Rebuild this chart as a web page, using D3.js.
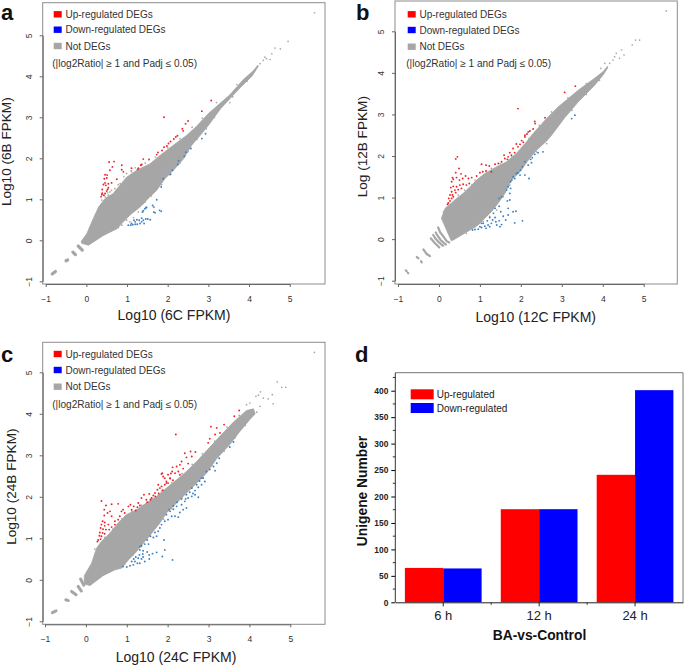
<!DOCTYPE html>
<html><head><meta charset="utf-8">
<script src="https://cdn.jsdelivr.net/npm/d3@7/dist/d3.min.js"></script>
<style>html,body{margin:0;padding:0;background:#fff}svg{display:block}text{font-family:"Liberation Sans",Arial,sans-serif}</style>
</head><body><svg id="c" width="685" height="665"></svg>
<script>
// ---------- panel a, log10 units ----------
const aUp=[[.56,1.91],[.68,1.92],[.87,1.83],[.64,1.79],[.58,1.71],[.87,1.72],[.91,1.67],[.46,1.60],[.51,1.59],[.44,1.50],[.50,1.52],[.75,1.49],[.46,1.40],[.42,1.36],[.48,1.34],[.54,1.38],[.62,1.40],[.54,1.28],[.39,1.24],[.52,1.24],[.50,1.20],[.39,1.15],[.46,1.14],[.36,1.06],[.43,1.10],[.38,1.11],[3.07,3.41],[2.84,3.15],[1.91,3.00],[2.50,2.91],[2.44,2.84],[2.36,2.72],[2.38,2.67],[2.24,2.55],[2.15,2.47],[2.07,2.41],[1.98,2.30],[1.91,2.27],[1.86,2.19],[1.76,2.14],[1.73,2.09],[1.54,1.97],[1.40,1.98],[1.34,1.83],[1.28,1.76],[1.11,1.76],[2.02,2.36],[2.20,2.52],[1.26,1.73],[1.36,1.85]];
const aDown=[[2.93,2.60],[2.84,2.48],[2.57,2.24],[2.45,2.15],[2.41,2.05],[2.27,1.94],[2.25,1.85],[2.12,1.71],[2.07,1.61],[1.89,1.50],[1.84,1.30],[1.73,.99],[1.63,.85],[1.66,.81],[1.84,.71],[1.80,.73],[1.48,.80],[1.40,.72],[1.69,.67],[1.03,.37],[1.09,.37],[1.14,.38],[1.20,.39],[1.25,.39],[1.32,.41],[1.17,.49],[1.24,.50],[1.30,.49],[1.36,.45],[1.40,.49],[1.46,.52],[1.51,.52],[1.57,.50],[1.36,.54],[1.42,.41],[1.44,.77],[1.47,.80],[1.38,.69],[1.20,.45],[1.11,.41],[1.66,.69]];
const aUpper=[[-.12,-.02],[.01,.16],[.17,.53],[.30,.81],[.46,1.02],[.66,1.14],[.79,1.30],[.99,1.54],[1.24,1.71],[1.57,1.87],[1.81,2.07],[2.14,2.32],[2.47,2.56],[2.71,2.78],[3.00,3.09],[3.53,3.55],[3.86,3.92],[4.10,4.13],[4.22,4.27]];
const aLower=[[-.12,-.07],[.05,-.12],[.42,.12],[.75,.28],[.91,.45],[1.11,.65],[1.32,.81],[1.52,1.02],[1.73,1.22],[1.93,1.50],[2.18,1.75],[2.39,1.99],[2.59,2.32],[2.80,2.56],[3.00,2.80],[3.30,3.21],[3.78,3.72],[4.07,4.00],[4.22,4.23]];
const aRuns=[[[-.84,-.82],[-.76,-.76]],[[-.50,-.50],[-.46,-.48]],[[-.33,-.29],[-.27,-.35]],[[-.20,-.14],[-.10,-.24]]];
const aGrey=[[5.61,5.55],[4.96,4.85],[4.77,4.67],[4.64,4.69],[4.56,4.55],[4.43,4.43],[4.52,4.41],[4.39,4.47],[4.35,4.39],[4.27,4.31],[4.20,4.23],[4.15,4.15],[.38,.98],[.46,1.06],[.58,1.18],[.70,1.26],[.99,1.63],[1.11,1.67],[.83,1.38],[.54,1.10],[1.44,.93],[1.28,.69],[.99,.49],[1.07,.45],[.87,.37],[.79,.31],[1.16,.55],[.91,.53],[3.53,3.36],[2.95,2.72],[.52,1.16],[.62,1.22],[.78,1.36],[.92,1.55],[1.10,1.70],[1.20,1.77],[1.45,1.88],[1.70,2.03],[2.00,2.26],[2.30,2.48],[2.60,2.76],[2.85,2.98],[3.20,3.36],[3.70,3.80],[.60,.24],[.84,.42],[1.00,.60],[1.20,.74],[1.40,.90],[1.60,1.08],[1.85,1.36],[2.05,1.60],[2.30,1.88],[2.50,2.16],[2.72,2.46],[3.15,3.00],[3.60,3.50],[3.95,3.88]];
// ---------- panel b ----------
const bUp=[[.45,1.98],[.41,1.93],[.49,1.70],[.41,1.60],[.54,1.57],[.33,1.48],[.35,1.44],[.31,1.38],[.43,1.48],[.50,1.42],[.58,1.46],[.65,1.52],[.72,1.46],[.80,1.48],[.74,1.34],[.67,1.30],[.59,1.32],[.51,1.30],[.43,1.26],[.35,1.27],[.29,1.24],[.31,1.14],[.39,1.18],[.47,1.19],[.55,1.22],[.27,1.06],[.33,1.06],[.24,.98],[.31,.98],[.23,.87],[.27,.92],[.21,.84],[.35,1.02],[.41,1.12],[1.04,1.80],[1.15,1.78],[1.23,1.76],[1.00,1.60],[.92,1.52],[1.07,1.62],[1.15,1.64],[1.28,1.62],[1.37,1.80],[1.45,1.82],[1.53,1.86],[1.61,1.94],[1.69,1.98],[1.77,2.02],[1.59,2.02],[1.67,1.92],[1.81,2.18],[1.89,2.29],[1.93,2.22],[2.02,2.37],[2.10,2.46],[2.15,2.53],[2.18,2.58],[3.07,3.53],[3.33,3.68],[1.93,3.14],[2.34,2.83],[2.35,2.78],[2.59,2.92],[2.30,2.65],[2.22,2.60],[2.10,2.50],[1.85,2.08],[1.73,2.08],[1.98,2.28],[2.06,2.33]];
const bDown=[[2.54,2.10],[2.42,2.08],[2.34,2.04],[2.28,1.96],[2.24,1.92],[2.26,1.84],[2.18,1.78],[2.10,1.86],[2.04,1.74],[1.99,1.66],[1.89,1.58],[1.81,1.50],[1.75,1.38],[1.69,1.26],[1.65,1.18],[1.85,1.46],[1.98,1.54],[2.10,1.54],[2.20,1.46],[1.75,1.22],[1.73,1.10],[1.47,.98],[1.53,1.02],[1.67,.92],[1.73,.94],[1.37,.74],[1.47,.79],[1.51,.66],[1.69,.74],[1.81,.66],[1.88,.67],[1.69,.58],[1.57,.55],[1.85,.39],[2.04,.44],[1.63,.46],[1.53,.35],[1.47,.44],[1.39,.42],[1.28,.38],[1.20,.34],[1.12,.31],[1.04,.28],[.96,.24],[.88,.23],[.82,.22],[1.08,.38],[1.18,.44],[1.24,.52],[1.31,.46],[1.04,.38],[1.41,.34],[1.49,.30],[1.24,.30],[1.15,.26],[1.00,.30],[1.37,.52],[1.33,.62],[3.32,2.98],[3.24,2.90],[1.93,1.60],[1.78,1.42]];
const bUpper=[[.06,.50],[.15,.74],[.27,.84],[.43,.98],[.59,1.10],[.76,1.26],[.92,1.42],[1.12,1.58],[1.37,1.72],[1.65,1.86],[1.89,2.06],[2.14,2.34],[2.30,2.54],[2.59,2.86],[2.91,3.18],[3.40,3.58],[3.80,3.87],[4.01,4.03],[4.12,4.16]];
const bLower=[[.30,-.04],[.35,-.02],[.59,.12],[.76,.22],[.96,.34],[1.12,.50],[1.28,.66],[1.45,.87],[1.61,1.10],[1.77,1.42],[1.98,1.62],[2.18,1.90],[2.38,2.14],[2.63,2.36],[2.75,2.50],[3.07,2.92],[3.40,3.30],[3.80,3.70],[4.01,3.95],[4.12,4.12]];
const bRuns=[[[-.81,-.75],[-.79,-.77]],[[-.76,-.81],[-.75,-.82]],[[-.54,-.43],[-.50,-.46]],[[-.44,-.53],[-.42,-.56]],[[-.38,-.25],[-.34,-.30],[-.30,-.36],[-.26,-.38],[-.22,-.41]],[[-.20,.02],[-.15,-.04],[-.10,-.10],[-.04,-.15],[.01,-.20]],[[-.14,.10],[-.09,.02],[-.02,-.06],[.05,-.12],[.10,-.16]],[[-.08,.16],[-.03,.08],[.04,-.02],[.12,-.09],[.17,-.13]],[[-.02,.28],[.03,.16],[.11,.06],[.19,-.05],[.25,-.08]]];
const bGrey=[[5.55,5.49],[4.90,4.79],[4.80,4.79],[4.72,4.67],[4.52,4.43],[4.46,4.55],[4.41,4.35],[4.33,4.47],[4.25,4.31],[4.17,4.23],[4.05,4.23],[3.95,4.11],[4.29,4.39],[.19,.74],[.11,.66],[.47,1.06],[.63,1.18],[.88,1.42],[1.04,1.50],[1.28,1.70],[.80,1.30],[.72,1.18],[.39,.90],[.67,.14],[.88,.30],[1.08,.42],[1.24,.55],[1.41,.70],[1.57,1.02],[1.73,1.30],[2.02,1.70],[2.38,2.10],[2.63,2.30],[1.50,1.82],[1.78,1.98],[2.20,2.42],[2.45,2.74],[2.75,3.06],[3.15,3.40],[3.60,3.74],[2.90,2.72],[3.25,3.10],[3.60,3.48],[3.92,3.82]];
// ---------- panel c ----------
const cUp=[[.38,1.90],[.63,1.82],[.79,1.83],[.49,1.79],[.45,1.69],[.59,1.65],[.53,1.61],[.45,1.55],[.63,1.53],[.71,1.41],[.79,1.45],[.87,1.65],[.91,1.69],[.95,1.61],[.83,1.53],[.41,1.41],[.46,1.38],[.38,1.33],[.46,1.30],[.55,1.33],[.63,1.27],[.71,1.33],[.36,1.25],[.42,1.22],[.49,1.21],[.34,1.14],[.41,1.13],[.46,1.11],[.33,1.06],[.38,1.05],[.30,.96],[.36,.98],[.28,.92],[.57,1.21],[1.04,1.77],[1.09,1.81],[1.17,1.77],[1.28,1.85],[1.36,1.97],[1.42,2.05],[1.26,1.75],[1.32,1.79],[1.12,1.69],[1.22,1.67],[1.48,1.93],[1.55,2.07],[1.61,1.97],[1.69,2.09],[1.65,2.03],[1.75,2.17],[1.81,2.21],[1.85,2.55],[1.89,2.49],[1.93,2.29],[1.97,2.37],[2.06,2.45],[2.08,2.56],[2.18,2.57],[2.26,2.61],[2.01,2.33],[1.77,2.29],[1.85,2.25],[2.20,3.50],[3.06,3.69],[3.20,3.66],[3.28,3.54],[3.38,3.74],[2.99,3.30],[3.03,3.40],[3.75,4.08],[3.63,3.94],[3.16,3.50],[2.56,3.09],[2.68,3.08],[2.42,3.05],[2.46,2.95],[2.34,2.85],[2.59,2.97],[2.22,2.73],[2.12,2.71],[2.30,2.77],[2.11,2.61],[1.87,2.57],[1.93,2.45],[2.01,2.53],[2.06,2.44],[1.97,2.33],[1.50,1.87],[1.58,1.93],[1.70,2.01],[1.78,2.08],[1.88,2.16],[2.13,2.40],[2.30,2.53],[2.38,2.68],[2.50,2.80]];
const cDown=[[2.12,.48],[1.93,.72],[1.91,.96],[1.73,.66],[1.87,.56],[1.63,.63],[1.55,.60],[1.50,.67],[1.39,.62],[1.32,.80],[1.36,.82],[1.40,.70],[1.31,.60],[1.55,.50],[1.44,.44],[1.36,.50],[1.28,.52],[1.20,.44],[1.26,.40],[1.16,.36],[1.08,.34],[1.00,.31],[.91,.32],[1.32,.40],[1.12,.44],[1.22,.55],[1.17,.50],[1.40,.55],[1.32,.72],[1.53,.86],[1.65,1.02],[1.73,1.05],[1.58,1.05],[1.50,.96],[1.44,.86],[1.69,1.14],[1.77,1.17],[1.85,1.33],[1.81,1.25],[1.93,1.41],[2.01,1.45],[2.10,1.53],[2.18,1.53],[2.26,1.51],[1.97,1.57],[2.06,1.65],[2.14,1.70],[2.22,1.77],[2.34,1.81],[2.42,1.89],[2.38,1.69],[2.46,1.73],[2.30,1.62],[2.50,1.97],[2.59,2.01],[2.67,2.05],[2.54,2.11],[2.67,2.15],[2.75,2.23],[2.83,2.29],[2.91,2.37],[2.71,2.29],[2.83,2.45],[2.59,2.21],[2.46,2.05],[2.34,1.95],[2.23,1.87],[2.14,1.78],[2.04,1.69],[3.26,2.93],[3.20,2.81],[3.12,2.73],[3.61,3.32],[3.52,3.20],[2.95,2.61],[2.87,2.45],[2.75,1.99],[3.16,2.63],[3.03,2.66],[2.78,2.38],[2.62,2.08],[2.44,1.95]];
const cUpper=[[-.04,.10],[.14,.40],[.26,.76],[.38,.92],[.59,1.13],[.79,1.37],[.99,1.57],[1.24,1.69],[1.48,1.85],[1.73,2.01],[1.97,2.21],[2.22,2.41],[2.46,2.61],[2.71,2.85],[2.99,3.15],[3.32,3.50],[3.61,3.80],[3.93,4.08],[4.10,4.12]];
const cLower=[[-.04,-.10],[.10,-.14],[.42,.10],[.71,.24],[.87,.28],[1.04,.48],[1.24,.68],[1.44,.92],[1.65,1.17],[1.81,1.37],[1.97,1.61],[2.22,1.85],[2.46,2.09],[2.71,2.33],[2.95,2.57],[3.20,2.92],[3.52,3.26],[3.77,3.58],[4.01,3.86],[4.14,4.00]];
const cRuns=[[[-.82,-.79],[-.73,-.75]],[[-.49,-.48],[-.43,-.50]],[[-.35,-.28],[-.24,-.36]],[[-.19,-.16],[-.11,-.27]],[[-.13,.02],[-.05,-.13]]];
const cGrey=[[5.59,5.48],[4.68,4.77],[4.89,4.64],[4.79,4.64],[4.58,4.24],[4.56,4.46],[4.46,4.36],[4.27,4.53],[4.22,4.45],[4.16,4.42],[4.34,4.38],[4.26,4.18],[4.18,4.04],[4.05,3.94],[4.01,4.26],[3.93,4.22],[.22,.74],[.46,1.02],[.66,1.22],[.88,1.47],[1.12,1.66],[1.36,1.80],[.60,.20],[.95,.38],[1.15,.60],[1.35,.80],[1.55,1.06],[1.90,1.46],[2.10,1.72],[1.60,1.96],[1.85,2.14],[2.10,2.34],[2.35,2.56],[2.60,2.78],[2.85,3.04],[3.15,3.34],[3.45,3.68],[3.75,3.96],[2.35,1.98],[2.60,2.22],[2.85,2.48],[3.08,2.76],[3.38,3.10],[3.65,3.42],[3.90,3.72]];
// ---------- panel d ----------
const times=["6 h","12 h","24 h"];
const upCounts=[65,176,241];
const downCounts=[64,176,401];
const barSeries=["Up-regulated","Down-regulated"];
const yTicksD=[0,50,100,150,200,250,300,350,400];
const yMinorD=[25,75,125,175,225,275,325,375,425];
const scatterTicks=[-1,0,1,2,3,4,5];
const legendLabels=["Up-regulated DEGs","Down-regulated DEGs","Not DEGs"];
const criterion="(|log2Ratio| \u2265 1 and Padj \u2264 0.05)";

const RED="#ee2024",BLUE="#3b80c2",GREY="#a6a6a6";
const svg=d3.select("#c");

function scatter(p){
  const x=d3.scaleLinear([-1,5],[p.x0,p.x5]);
  const y=d3.scaleLinear([-1,5],[p.y0,p.y5]);
  const g=svg.append("g");
  g.append("rect").attr("x",p.l).attr("y",p.t).attr("width",p.r-p.l).attr("height",p.b-p.t)
    .attr("fill","#fff").attr("stroke","#8c8c8c").attr("stroke-width",1);
  const line=d3.line().x(d=>x(d[0])).y(d=>y(d[1]));
  g.append("path").attr("d",line(p.upper.concat(p.lower.slice().reverse()))+"Z").attr("fill",GREY).attr("stroke",GREY).attr("stroke-width",.8).attr("stroke-linejoin","round");
  g.selectAll(".run").data(p.runs).join("path").attr("d",d=>line(d)).attr("fill","none")
    .attr("stroke",GREY).attr("stroke-width",p.runW).attr("stroke-linecap","round");
  const dots=(data,col,r)=>g.append("g").selectAll("circle").data(data).join("circle")
    .attr("cx",d=>x(d[0])).attr("cy",d=>y(d[1])).attr("r",r).attr("fill",col);
  dots(p.grey,GREY,.85); dots(p.down,BLUE,.95); dots(p.up,RED,.95);
  const ax=g.append("g").attr("transform",`translate(0,${p.b})`)
    .call(d3.axisBottom(x).tickValues(scatterTicks).tickFormat(d3.format("d")).tickSize(3).tickPadding(9).tickSizeOuter(0));
  const ay=g.append("g").attr("transform",`translate(${p.l},0)`)
    .call(d3.axisLeft(y).tickValues(scatterTicks).tickFormat(d3.format("d")).tickSize(3).tickSizeOuter(0));
  ay.selectAll("text").attr("transform","rotate(-90)").attr("x",0).attr("y",-11).attr("dy",0).attr("text-anchor","middle");
  [ax,ay].forEach(a=>{a.selectAll("path,line").attr("stroke","#666");a.selectAll("text").attr("font-size",8.5).attr("fill","#333").style("font-family",'"Liberation Sans"');});
  const cols=["#ff0000","#0000ff",GREY];
  legendLabels.forEach((t,i)=>{
    g.append("rect").attr("x",p.lx).attr("y",p.ly[i]-3.2).attr("width",8).attr("height",6.4).attr("fill",cols[i]);
    g.append("text").attr("x",p.lx+11.8).attr("y",p.ly[i]+3.5).attr("font-size",10).attr("fill","#333").text(t);
  });
  g.append("text").attr("x",p.lx-1.5).attr("y",p.ly[3]+3.5).attr("font-size",10.1).attr("fill","#333").text(criterion);
  g.append("text").attr("x",p.xtx).attr("y",p.xty).attr("text-anchor","middle").attr("font-size",14).attr("fill","#222").text(p.xt);
  g.append("text").attr("transform",`translate(${p.ytx},${p.yty}) rotate(-90)`).attr("text-anchor","middle").attr("font-size",13.6).attr("fill","#222").text(p.yt);
  g.append("text").attr("x",p.lbx).attr("y",p.lby).attr("font-size",22).attr("font-weight","bold").attr("fill","#111").text(p.lb);
}

scatter({l:42.7,r:325,t:2.7,b:284,x0:45.7,x5:289.7,y0:281.3,y5:35.3,up:aUp,down:aDown,upper:aUpper,lower:aLower,runs:aRuns,grey:aGrey,runW:3.2,
  lx:53.7,ly:[14.3,29.7,46,63],xt:"Log10 (6C FPKM)",xtx:174,xty:320,yt:"Log10 (6B FPKM)",ytx:11,yty:151.7,lb:"a",lbx:1,lby:20});
scatter({l:395,r:677.3,t:1,b:284,x0:398,x5:643.7,y0:280.7,y5:31.3,up:bUp,down:bDown,upper:bUpper,lower:bLower,runs:bRuns,grey:bGrey,runW:2.2,
  lx:407.7,ly:[14.3,30,46.7,63.5],xt:"Log10 (12C FPKM)",xtx:535.7,xty:321.7,yt:"Log (12B FPKM)",ytx:367,yty:146.7,lb:"b",lbx:356,lby:20});
scatter({l:42.7,r:325,t:342.3,b:624.3,x0:45,x5:290.3,y0:621.3,y5:372.3,up:cUp,down:cDown,upper:cUpper,lower:cLower,runs:cRuns,grey:cGrey,runW:3,
  lx:53.7,ly:[354,370,386.7,404],xt:"Log10 (24C FPKM)",xtx:176,xty:661.7,yt:"Log10 (24B FPKM)",ytx:15.7,yty:486.7,lb:"c",lbx:1,lby:362});

(function(){
  const L=395.3,R=683,T=372.7,B=602.3;
  const y=d3.scaleLinear([0,400],[B,390.7]);
  const x=d3.scaleBand(times,[L,R]).paddingInner(0).paddingOuter(0);
  const g=svg.append("g");
  const inner=d3.scaleBand(barSeries,[0,x.bandwidth()*.8]);
  const off=x.bandwidth()*.1;
  const vals=[upCounts,downCounts],cols=["#ff0000","#0000ff"];
  g.append("path").attr("d",`M${L},${T}H${R}V${B}`).attr("fill","none").attr("stroke","#777").attr("stroke-width",1);
  barSeries.forEach((s,i)=>{
    g.append("g").selectAll("rect").data(times).join("rect")
      .attr("x",d=>x(d)+off+inner(s)).attr("width",inner.bandwidth())
      .attr("y",(d,k)=>y(vals[i][k])).attr("height",(d,k)=>B-y(vals[i][k])).attr("fill",cols[i]);
  });
  const ay=g.append("g").attr("transform",`translate(${L},0)`).call(d3.axisLeft(y).tickValues(yTicksD).tickFormat(d3.format("d")).tickSize(4).tickPadding(3).tickSizeOuter(0));
  ay.selectAll("text").attr("font-size",8.4).attr("font-weight","bold").attr("fill","#222").style("font-family",'"Liberation Sans"');
  ay.select(".domain").remove();
  g.append("line").attr("x1",L).attr("x2",L).attr("y1",T).attr("y2",B).attr("stroke","#333");
  g.append("g").selectAll("line").data(yMinorD).join("line").attr("x1",L-2.5).attr("x2",L).attr("y1",d=>y(d)).attr("y2",d=>y(d)).attr("stroke","#333");
  const ax=g.append("g").attr("transform",`translate(0,${B})`).call(d3.axisBottom(x).tickSize(4).tickPadding(4).tickSizeOuter(0));
  ax.selectAll("text").attr("font-size",13).attr("fill","#222").style("font-family",'"Liberation Sans"');
  ax.selectAll("path,line").attr("stroke","#222");
  g.append("g").selectAll("line").data(times.slice(1)).join("line").attr("x1",d=>x(d)).attr("x2",d=>x(d)).attr("y1",B).attr("y2",B+2.5).attr("stroke","#333");
  g.append("text").attr("x",539.5).attr("y",639.5).attr("text-anchor","middle").attr("font-size",13.8).attr("font-weight","bold").attr("fill","#111").text("BA-vs-Control");
  g.append("text").attr("transform","translate(367,491) rotate(-90)").attr("text-anchor","middle").attr("font-size",13.8).attr("font-weight","bold").attr("fill","#111").text("Unigene Number");
  barSeries.forEach((s,i)=>{
    g.append("rect").attr("x",410.7).attr("y",389.3+i*13.7).attr("width",23).attr("height",10).attr("fill",cols[i]);
    g.append("text").attr("x",436.7).attr("y",398+i*13.5).attr("font-size",10).attr("fill","#222").text(s);
  });
  g.append("text").attr("x",355).attr("y",362.3).attr("font-size",22).attr("font-weight","bold").attr("fill","#111").text("d");
})();
</script></body></html>
